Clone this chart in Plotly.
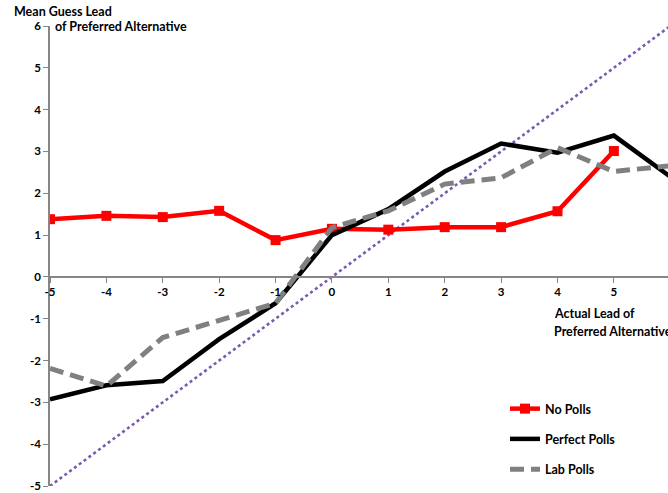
import plotly.graph_objects as go

x_vals = [-5, -4, -3, -2, -1, 0, 1, 2, 3, 4, 5, 6]
no_polls = [1.38, 1.46, 1.43, 1.58, 0.88, 1.15, 1.13, 1.19, 1.19, 1.57, 3.01]
perfect_polls = [-2.93, -2.59, -2.49, -1.49, -0.63, 1.0, 1.62, 2.52, 3.19, 2.97, 3.38, 2.40]
lab_polls = [-2.19, -2.61, -1.45, -1.05, -0.63, 1.18, 1.58, 2.22, 2.37, 3.09, 2.52, 2.66]
ref_x = [-5, 6]
ref_y = [-5, 6]
y_ticks = [-5, -4, -3, -2, -1, 0, 1, 2, 3, 4, 5, 6]
x_ticks = [-5, -4, -3, -2, -1, 0, 1, 2, 3, 4, 5, 6]

FONT = "Lato"
W, H = 668, 493
ML, MR, MT, MB = 50, 0, 26, 7
PW, PH = W - ML - MR, H - MT - MB

def px(xp):
    return (xp - ML) / PW

def py(yp):
    return (H - MB - yp) / PH

fig = go.Figure()
fig.add_trace(go.Scatter(x=ref_x, y=ref_y, mode="lines", showlegend=False,
                         line=dict(color="#7A5AAE", width=2.6, dash="dot"), hoverinfo="skip"))
fig.add_trace(go.Scatter(x=x_vals[:len(no_polls)], y=no_polls, mode="lines+markers", name="No Polls",
                         legendgroup="a",
                         line=dict(color="#FF0000", width=4.5),
                         marker=dict(symbol="square", size=10, color="#FF0000")))
fig.add_trace(go.Scatter(x=x_vals, y=perfect_polls, mode="lines", name="Perfect Polls",
                         legendgroup="b",
                         line=dict(color="#000000", width=4.5)))
fig.add_trace(go.Scatter(x=x_vals, y=lab_polls, mode="lines", name="Lab Polls",
                         legendgroup="c",
                         line=dict(color="#808080", width=5, dash="14px,7px")))

fig.update_layout(
    width=W, height=H,
    margin=dict(l=ML, r=MR, t=MT, b=MB),
    paper_bgcolor="white", plot_bgcolor="white",
    font=dict(family=FONT, color="#000000"),
    xaxis=dict(range=[-5, 5.96], tickvals=x_ticks, ticktext=[str(v) for v in x_ticks],
               showgrid=False, zeroline=False, showline=True, linecolor="#868686", linewidth=1.5,
               ticks="outside", ticklen=5, tickcolor="#868686", tickwidth=1,
               anchor="free", position=5 / 11,
               tickfont=dict(family=FONT, size=11.5, color="#000", weight="bold")),
    yaxis=dict(range=[-5, 6], tickvals=y_ticks, ticktext=[str(v) for v in y_ticks],
               showgrid=False, zeroline=False, showline=True, linecolor="#868686", linewidth=1.5,
               ticks="outside", ticklen=5, tickcolor="#868686", tickwidth=1,
               tickfont=dict(family=FONT, size=11.5, color="#000", weight="bold")),
    legend=dict(x=px(505), y=py(394), xanchor="left", yanchor="top",
                font=dict(family=FONT, size=12.5, color="#000", weight="bold"),
                bgcolor="rgba(0,0,0,0)", traceorder="grouped", tracegroupgap=11,
                itemwidth=30),
    showlegend=True,
)

ann_font = dict(family=FONT, size=12.5, color="#000", weight="bold")
fig.add_annotation(text="Mean Guess Lead", xref="paper", yref="paper", x=px(12), y=py(11),
                   xanchor="left", yanchor="middle", showarrow=False, font=ann_font)
fig.add_annotation(text="of Preferred Alternative", xref="paper", yref="paper", x=px(53), y=py(27),
                   xanchor="left", yanchor="middle", showarrow=False, font=ann_font)
fig.add_annotation(text="Actual Lead of", xref="paper", yref="paper", x=px(552), y=py(313),
                   xanchor="left", yanchor="middle", showarrow=False, font=ann_font)
fig.add_annotation(text="Preferred Alternative", xref="paper", yref="paper", x=px(552), y=py(332),
                   xanchor="left", yanchor="middle", showarrow=False, font=ann_font)

fig.write_html("out.html", config={"displayModeBar": False},
               post_script="document.body.style.margin='0';document.body.style.overflow='hidden';")
